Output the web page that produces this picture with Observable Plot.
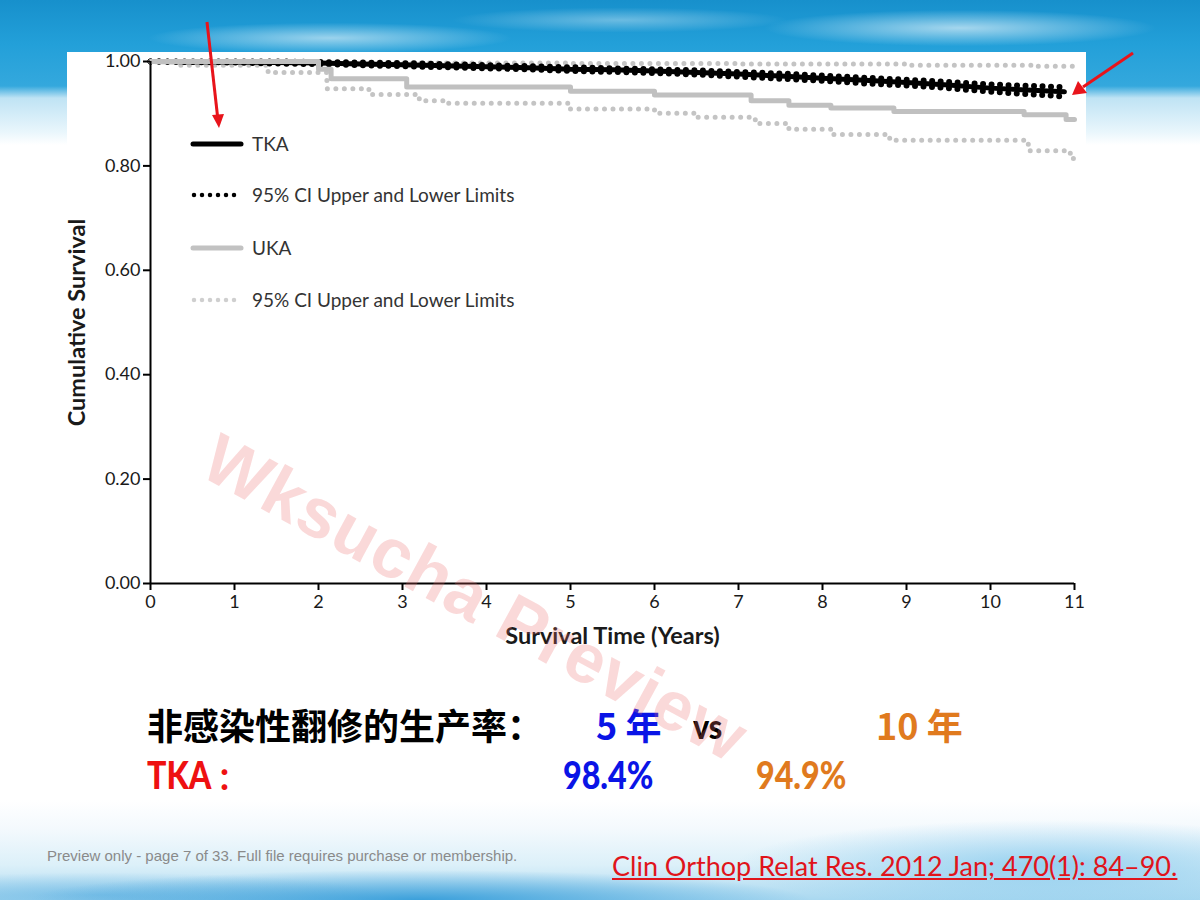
<!DOCTYPE html>
<html><head><meta charset="utf-8">
<script src="https://cdn.jsdelivr.net/npm/d3@7"></script>
<script src="https://cdn.jsdelivr.net/npm/@observablehq/plot@0.6"></script>
<style>
html,body{margin:0;padding:0;}
body{width:1200px;height:900px;position:relative;overflow:hidden;background:#fff;font-family:Lato,sans-serif;}
#bgtop{position:absolute;left:0;top:0;width:1200px;height:150px;
 background:
  radial-gradient(ellipse 260px 22px at 330px 38px, rgba(255,255,255,0.55), rgba(255,255,255,0) 70%),
  radial-gradient(ellipse 240px 18px at 620px 20px, rgba(255,255,255,0.35), rgba(255,255,255,0) 70%),
  radial-gradient(ellipse 280px 26px at 960px 28px, rgba(255,255,255,0.6), rgba(255,255,255,0) 70%),
  linear-gradient(to bottom, #1790cc 0px, #23a0d9 45px, #34a8dd 86px, #bfe3f4 98px, #e9f6fc 132px, #ffffff 145px);}
#bgbot{position:absolute;left:0;top:800px;width:1200px;height:100px;
 background:
  radial-gradient(ellipse 520px 40px at 420px 100px, rgba(40,150,215,0.85), rgba(40,150,215,0) 75%),
  radial-gradient(ellipse 420px 60px at 1050px 65px, rgba(120,195,235,0.7), rgba(120,195,235,0) 75%),
  radial-gradient(ellipse 380px 30px at 100px 95px, rgba(90,175,225,0.6), rgba(90,175,225,0) 75%),
  linear-gradient(to bottom, #ffffff 0px, #f3f9fd 30px, #dcf0f9 65px, #a9d8f0 100px);}
#chart{position:absolute;left:67px;top:52px;}
#chart svg{display:block;}
[aria-label="y-axis label"] text,[aria-label="x-axis label"] text,
g[aria-label="y-axis label"],g[aria-label="x-axis label"]{font-weight:700;font-size:23.5px;fill:#1a1a1a;}
.leg{position:absolute;left:190px;font-family:Lato,sans-serif;font-size:19px;color:#333;}
.leg svg{position:absolute;left:0;top:-6px;}
.leg span{position:absolute;left:62px;top:-12px;white-space:nowrap;}
.cjk{position:absolute;font-family:"Noto Sans CJK SC","Noto Sans",sans-serif;font-weight:700;font-size:36px;line-height:1;white-space:nowrap;}
.lat{position:absolute;font-family:Lato,sans-serif;font-weight:900;font-size:37px;line-height:1;white-space:nowrap;transform-origin:0 50%;transform:scaleX(0.87);}
#wm{position:absolute;left:228px;top:418px;transform-origin:0 0;transform:rotate(28.5deg);
 font-family:"Liberation Sans",Arial,sans-serif;font-weight:700;font-size:70px;color:rgba(235,110,110,0.26);white-space:nowrap;letter-spacing:1px;}
#prev{position:absolute;left:47px;top:847px;font-family:"Liberation Sans",Arial,sans-serif;font-size:15px;color:#8a8a8a;white-space:nowrap;}
#ref{position:absolute;left:612px;top:849px;font-family:Lato,sans-serif;font-size:27px;color:#e0141b;text-decoration:underline;white-space:nowrap;}
#arrows{position:absolute;left:0;top:0;}
</style></head><body>
<div id="bgtop"></div>
<div id="bgbot"></div>
<div id="chart"></div>

<div class="leg" style="top:144px"><svg width="56" height="12"><line x1="3" y1="6" x2="51" y2="6" stroke="#000" stroke-width="5" stroke-linecap="round"/></svg><span>TKA</span></div>
<div class="leg" style="top:195px"><svg width="56" height="12"><line x1="4" y1="6" x2="50" y2="6" stroke="#000" stroke-width="4.5" stroke-dasharray="0 8" stroke-linecap="round"/></svg><span>95% CI Upper and Lower Limits</span></div>
<div class="leg" style="top:248px"><svg width="56" height="12"><line x1="3" y1="6" x2="51" y2="6" stroke="#c2c2c2" stroke-width="5" stroke-linecap="round"/></svg><span>UKA</span></div>
<div class="leg" style="top:300px"><svg width="56" height="12"><line x1="4" y1="6" x2="50" y2="6" stroke="#cfcfcf" stroke-width="4.5" stroke-dasharray="0 8" stroke-linecap="round"/></svg><span>95% CI Upper and Lower Limits</span></div>

<div class="cjk" style="left:147px;top:706px;color:#000">非感染性翻修的生产率：</div>
<div class="cjk" style="left:596px;top:706px;color:#0a14e6">5 年</div>
<div class="lat" style="left:693px;top:708px;color:#000;font-size:35px">vs</div>
<div class="cjk" style="left:876px;top:706px;color:#e07a1e">10 年</div>
<div class="lat" style="left:147px;top:756px;color:#ee1111">TKA</div>
<div class="cjk" style="left:217px;top:761px;color:#ee1111;font-size:30px">：</div>
<div class="lat" style="left:563px;top:756px;color:#0a14e6">98.4%</div>
<div class="lat" style="left:756px;top:756px;color:#e07a1e">94.9%</div>

<div id="wm">Wksucha Preview</div>
<div id="prev">Preview only - page 7 of 33. Full file requires purchase or membership.</div>
<div id="ref">Clin Orthop Relat Res. 2012 Jan; 470(1): 84–90.</div>

<svg id="arrows" width="1200" height="900">
  <line x1="207" y1="22" x2="217.5" y2="116" stroke="#e8141b" stroke-width="3"/>
  <polygon points="212,115 224,114 219,128" fill="#e8141b"/>
  <line x1="1133" y1="53" x2="1083" y2="87" stroke="#e8141b" stroke-width="3"/>
  <polygon points="1078,81 1087,93 1072,95" fill="#e8141b"/>
</svg>

<script>
// ---- data ----
const xTicks = [0,1,2,3,4,5,6,7,8,9,10,11];
const yTicks = [0,0.2,0.4,0.6,0.8,1.0];

const tkaTime  = [0, 1, 1.5, 2, 2.5, 3, 3.5, 4, 4.5, 5, 5.5, 6, 6.5, 7, 7.5, 8, 8.5, 9, 9.5, 10, 10.5, 10.88];
const tkaSurv  = [1.000, 0.999, 0.998, 0.997, 0.995, 0.994, 0.992, 0.990, 0.988, 0.985, 0.984, 0.982, 0.979, 0.976, 0.972, 0.968, 0.964, 0.960, 0.955, 0.949, 0.945, 0.942];
const tkaUpper = [1.000, 1.000, 1.000, 0.999, 0.998, 0.997, 0.995, 0.993, 0.991, 0.989, 0.987, 0.985, 0.983, 0.980, 0.977, 0.973, 0.969, 0.965, 0.961, 0.956, 0.953, 0.951];
const tkaLower = [1.000, 0.998, 0.996, 0.995, 0.993, 0.991, 0.989, 0.987, 0.985, 0.982, 0.980, 0.978, 0.975, 0.971, 0.967, 0.963, 0.958, 0.954, 0.949, 0.942, 0.937, 0.933];

const ukaTime = [0, 2.0, 2.15, 3.05, 5.0, 6.0, 7.15, 7.6, 8.1, 8.85, 10.4, 10.9, 11.0];
const ukaSurv = [1.000, 0.985, 0.967, 0.951, 0.943, 0.936, 0.925, 0.916, 0.911, 0.904, 0.898, 0.889, 0.889];

const ukaUpTime = [0, 2.0, 3.0, 5.0, 7.0, 9.0, 10.5, 11.0];
const ukaUpper  = [1.000, 0.998, 0.997, 0.996, 0.995, 0.993, 0.991, 0.989];

const ukaLoTime = [0, 0.3, 1.4, 2.1, 2.6, 3.2, 3.5, 5.0, 6.0, 6.5, 7.2, 7.6, 8.1, 8.8, 10.45, 10.95, 11.0];
const ukaLower  = [1.000, 0.993, 0.979, 0.948, 0.937, 0.925, 0.920, 0.909, 0.901, 0.893, 0.881, 0.870, 0.860, 0.849, 0.829, 0.814, 0.814];

// ---- build tables ----
const rows = (ts, vs) => ts.map((t, i) => ({t, s: vs[i]}));
const tkaRows = rows(tkaTime, tkaSurv);
const tkaUpRows = rows(tkaTime, tkaUpper);
const tkaLoRows = rows(tkaTime, tkaLower);
const ukaRows = rows(ukaTime, ukaSurv);
const ukaUpRows = rows(ukaUpTime, ukaUpper);
const ukaLoRows = rows(ukaLoTime, ukaLower);

const grayDot = {x: "t", y: "s", stroke: "#c4c4c4", strokeWidth: 5, strokeDasharray: "0 8.5", strokeLinecap: "round", curve: "step-after"};
const blackDot = {x: "t", y: "s", stroke: "#000", strokeWidth: 6, strokeDasharray: "0 8.5", strokeLinecap: "round"};

const chart = Plot.plot({
  width: 1019, height: 596,
  marginLeft: 83, marginRight: 12, marginTop: 9, marginBottom: 65,
  x: {domain: [0, 11]},
  y: {domain: [0, 1]},
  style: {fontFamily: "Lato, sans-serif", fontSize: "18px", color: "#1a1a1a", background: "white", overflow: "visible"},
  marks: [
    Plot.line(ukaUpRows, grayDot),
    Plot.line(ukaLoRows, grayDot),
    Plot.line(tkaRows, {x: "t", y: "s", stroke: "#000", strokeWidth: 5}),
    Plot.line(tkaUpRows, blackDot),
    Plot.line(tkaLoRows, blackDot),
    Plot.line(ukaRows, {x: "t", y: "s", stroke: "#c0c0c0", strokeWidth: 5, curve: "step-after"}),
    Plot.ruleX([0], {y1: 0, y2: 1, stroke: "#000", strokeWidth: 2}),
    Plot.ruleY([0], {stroke: "#000", strokeWidth: 2}),
    Plot.axisY({ticks: yTicks, tickFormat: d3.format(".2f"), tickSize: 7, tickPadding: 3, strokeWidth: 2, stroke: "#000",
      label: "Cumulative Survival", labelAnchor: "center", labelOffset: 82, labelArrow: false}),
    Plot.axisX({ticks: xTicks, tickFormat: d3.format("d"), tickSize: 7, tickPadding: 5, strokeWidth: 2, stroke: "#000",
      label: "Survival Time (Years)", labelAnchor: "center", labelOffset: 60, labelArrow: false})
  ]
});
document.getElementById("chart").appendChild(chart);
</script>
</body></html>
